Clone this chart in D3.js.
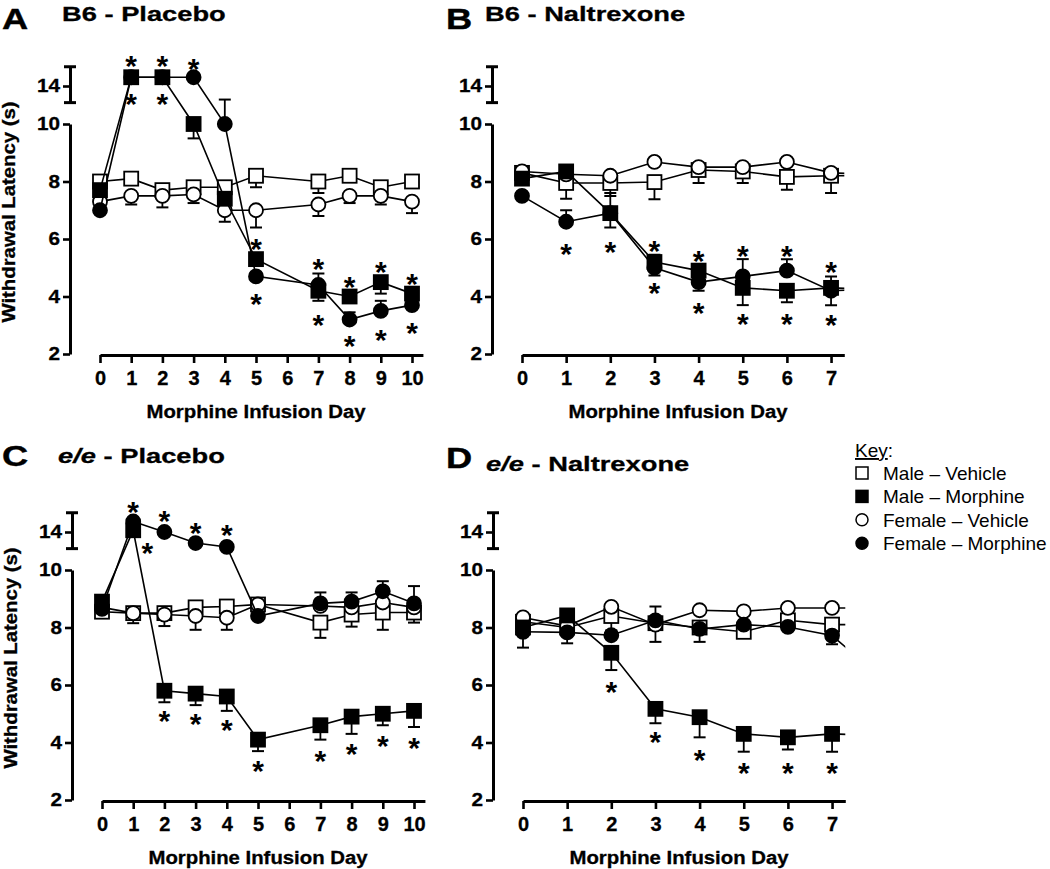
<!DOCTYPE html>
<html>
<head>
<meta charset="utf-8">
<script src="https://cdn.jsdelivr.net/npm/d3@7"></script>
<style>
  body { margin: 0; background: #fff; }
  svg { display: block; }
  text { font-family: "Liberation Sans", Arial, Helvetica, sans-serif; fill: #000; }
</style>
</head>
<body>
<svg id="chart" width="1050" height="869"></svg>
<script>
// ---- data ----
var dayTicksLong = [0, 1, 2, 3, 4, 5, 6, 7, 8, 9, 10];
var dayTicksShort = [0, 1, 2, 3, 4, 5, 6, 7];
var yTicksLower = [2, 4, 6, 8, 10];
var yTicksUpper = [14];
var seriesLabels = ['Male \u2013 Vehicle', 'Male \u2013 Morphine', 'Female \u2013 Vehicle', 'Female \u2013 Morphine'];

// A: B6 - Placebo
var daysA = [0, 1, 2, 3, 4, 5, 7, 8, 9, 10];
var maleVehA = [8.0, 8.1, 7.7, 7.8, 7.8, 8.2, 8.0, 8.2, 7.8, 8.0];
var maleVehErrA = [0, 0, 0, 0, 0, -0.4, -0.4, 0, -0.25, 0];
var maleMorA = [7.7, 14.5, 14.5, 10.0, 7.4, 5.3, 4.2, 4.0, 4.5, 4.1];
var maleMorErrA = [0, 0, 0, -0.5, 0, 0, -0.35, 0, -0.4, 0];
var femVehA = [7.3, 7.5, 7.5, 7.55, 7.0, 7.0, 7.2, 7.5, 7.5, 7.3];
var femVehErrA = [0, -0.3, -0.4, -0.3, -0.4, -0.6, -0.4, -0.25, -0.3, -0.4];
var femMorA = [7.0, 14.5, 14.5, 14.5, 10.0, 4.7, 4.4, 3.2, 3.5, 3.7];
var femMorErrA = [0, 0, 0, 0, 0.85, 0, 0.4, 0.25, 0.35, 0];
var starsA = [[1, 15.55], [1, 13.4], [2, 15.55], [2, 13.4], [3, 15.4], [5, 5.9], [5, 4.0], [7, 5.2], [7, 3.25],
  [8, 4.6], [8, 2.55], [9, 5.1], [9, 2.75], [10, 4.7], [10, 3.0]];

// B: B6 - Naltrexone (day 8 only shows as the clipped line stub)
var daysB = [0, 1, 2, 3, 4, 5, 6, 7, 8];
var maleVehB = [8.3, 7.95, 7.95, 7.98, 8.4, 8.35, 8.16, 8.2, 8.2];
var maleVehErrB = [0, -0.55, -0.45, -0.6, -0.45, -0.4, -0.45, -0.6, 0];
var maleMorB = [8.1, 8.35, 6.9, 5.2, 4.9, 4.3, 4.2, 4.3, 4.25];
var maleMorErrB = [0, 0, -0.5, 0.25, 0, -0.6, -0.4, 0.4, 0];
var femVehB = [8.35, 8.25, 8.2, 8.68, 8.5, 8.5, 8.68, 8.3, 8.25];
var femVehErrB = [0, 0, 0, 0, 0, 0, 0, 0, 0];
var femMorB = [7.5, 6.6, 6.9, 5.0, 4.5, 4.7, 4.9, 4.2, 4.25];
var femMorErrB = [0, 0.4, 0.7, -0.27, -0.3, 0.6, 0.4, -0.5, 0];
var starsB = [[1, 5.72], [2, 5.8], [3, 5.85], [3, 4.37], [4, 5.5], [4, 3.67], [5, 5.65], [5, 3.3],
  [6, 5.65], [6, 3.3], [7, 5.1], [7, 3.25]];

// C: e/e - Placebo
var daysC = [0, 1, 2, 3, 4, 5, 7, 8, 9, 10];
var maleVehC = [8.55, 8.5, 8.5, 8.7, 8.73, 8.8, 8.17, 8.45, 8.52, 8.52];
var maleVehErrC = [0, -0.35, -0.45, 0, 0, 0, -0.53, -0.42, -0.6, -0.35];
var maleMorC = [8.9, 14.1, 5.8, 5.7, 5.6, 4.1, 4.6, 4.9, 5.0, 5.1];
var maleMorErrC = [0, 0, -0.4, -0.4, -0.5, -0.4, -0.5, -0.6, -0.4, -0.56];
var femVehC = [8.7, 8.5, 8.45, 8.4, 8.34, 8.8, 8.75, 8.7, 8.87, 8.7];
var femVehErrC = [0, 0, 0, -0.48, -0.42, 0, 0, 0, 0, 0];
var femMorC = [8.65, 14.6, 14.0, 13.37, 13.15, 8.4, 8.84, 8.9, 9.26, 8.84];
var femMorErrC = [0, 0, 0, 0, 0, 0, 0.38, 0.32, 0.35, 0.6];
var starsC = [[1, 15.55], [1.45, 13.2], [2, 15.03], [3, 14.35], [4, 14.23], [2, 5.0], [3, 4.9], [4, 4.68],
  [5, 3.27], [7, 3.63], [8, 3.87], [9, 4.12], [10, 4.08]];

// D: e/e - Naltrexone (day 8 only shows as the clipped line stub)
var daysD = [0, 1, 2, 3, 4, 5, 6, 7, 8];
var maleVehD = [8.2, 8.0, 8.4, 8.15, 8.0, 7.85, 8.25, 8.1, 8.1];
var maleVehErrD = [0, 0, -0.5, -0.65, 0, -0.2, 0, 0, 0];
var maleMorD = [8.0, 8.42, 7.12, 5.17, 4.88, 4.3, 4.18, 4.3, 4.25];
var maleMorErrD = [0, 0, -0.6, -0.5, -0.7, -0.62, -0.42, -0.62, 0];
var femVehD = [8.35, 8.05, 8.72, 8.1, 8.6, 8.56, 8.68, 8.68, 8.68];
var femVehErrD = [0, 0, 0, 0, 0, 0, 0, 0, 0];
var femMorD = [7.85, 7.83, 7.73, 8.25, 7.95, 8.1, 8.02, 7.72, 6.4];
var femMorErrD = [-0.55, -0.38, 0, 0.48, -0.45, 0, 0, -0.3, 0];
var starsD = [[2, 6.0], [3, 4.28], [4, 3.65], [5, 3.2], [6, 3.2], [7, 3.2]];

// ---- layout ----
var svg = d3.select('#chart');
var axisW = 3;
var boxSize = 14;      // square marker side
var dotR = 7;          // circle marker radius
var capW = 12;         // error bar cap width

function series(mark, filled, v, e) { return {mark: mark, filled: filled, v: v, e: e}; }

var panels = [
  {letter: 'A', ital: '', post: 'B6 - Placebo', days: daysA, ticks: dayTicksLong, xMax: 10.35, step: 31.2,
    ox: 0, oy: 0, letterAt: [2, 29], titleAt: [62, 21], yTitle: true, stars: starsA,
    series: [series('sq', false, maleVehA, maleVehErrA), series('ci', false, femVehA, femVehErrA),
      series('sq', true, maleMorA, maleMorErrA), series('ci', true, femMorA, femMorErrA)]},
  {letter: 'B', ital: '', post: 'B6 - Naltrexone', days: daysB, ticks: dayTicksShort, xMax: 7.3, step: 44.15,
    ox: 422, oy: 0, letterAt: [446, 29], titleAt: [485, 21], yTitle: false, stars: starsB,
    series: [series('sq', false, maleVehB, maleVehErrB), series('ci', false, femVehB, femVehErrB),
      series('sq', true, maleMorB, maleMorErrB), series('ci', true, femMorB, femMorErrB)]},
  {letter: 'C', ital: 'e/e', post: ' - Placebo', days: daysC, ticks: dayTicksLong, xMax: 10.35, step: 31.2,
    ox: 2, oy: 446, letterAt: [2, 466], titleAt: [58, 463], yTitle: true, stars: starsC,
    series: [series('sq', false, maleVehC, maleVehErrC), series('ci', false, femVehC, femVehErrC),
      series('sq', true, maleMorC, maleMorErrC), series('ci', true, femMorC, femMorErrC)]},
  {letter: 'D', ital: 'e/e', post: ' - Naltrexone', days: daysD, ticks: dayTicksShort, xMax: 7.3, step: 44.15,
    ox: 423, oy: 446, letterAt: [446, 468], titleAt: [486, 471], yTitle: false, stars: starsD,
    series: [series('sq', false, maleVehD, maleVehErrD), series('ci', false, femVehD, femVehErrD),
      series('sq', true, maleMorD, maleMorErrD), series('ci', true, femMorD, femMorErrD)]}
];

var defs = svg.append('defs');

function stretched(parent, x, y, sx, anchor) {
  return parent.append('text')
    .attr('transform', 'translate(' + x + ',' + y + ') scale(' + sx + ',1)')
    .attr('text-anchor', anchor);
}

function drawMarker(g, mark, filled, cx, cy, size, r) {
  var m;
  if (mark === 'sq') {
    m = g.append('rect').attr('x', cx - size / 2).attr('y', cy - size / 2)
      .attr('width', size).attr('height', size);
  } else {
    m = g.append('circle').attr('cx', cx).attr('cy', cy).attr('r', r);
  }
  m.attr('fill', filled ? '#000' : '#fff').attr('stroke', '#000').attr('stroke-width', 1.8);
  return m;
}

panels.forEach(function (p, pi) {
  // titles
  stretched(svg, p.letterAt[0], p.letterAt[1], 1.25, 'start')
    .attr('font-size', 29).attr('font-weight', 'bold').attr('stroke', '#000').attr('stroke-width', 0.4)
    .text(p.letter);
  var tt = stretched(svg, p.titleAt[0], p.titleAt[1], 1.3, 'start')
    .attr('font-size', 21).attr('font-weight', 'bold').attr('stroke', '#000').attr('stroke-width', 0.3);
  if (p.ital) tt.append('tspan').attr('font-style', 'italic').text(p.ital);
  tt.append('tspan').text(p.post);

  var g = svg.append('g').attr('transform', 'translate(' + p.ox + ',' + p.oy + ')');

  var x = d3.scaleLinear().domain([0, p.xMax]).range([100, 100 + p.step * p.xMax]);
  var yLow = d3.scaleLinear().domain([2, 10]).range([354, 124]);
  var yUp = d3.scaleLinear().domain([13, 15]).range([103.5, 68.5]);
  function yPos(v) { return v >= 12 ? yUp(v) : yLow(v); }

  // lower y axis
  var yAx = g.append('g').attr('transform', 'translate(70,0)')
    .call(d3.axisLeft(yLow).tickValues(yTicksLower).tickSize(7).tickSizeOuter(0).tickPadding(2));
  // upper y axis segment with caps
  var yAx2 = g.append('g').attr('transform', 'translate(70,0)')
    .call(d3.axisLeft(yUp.copy().domain([13.05, 15.1]).range([yUp(13.05), yUp(15.1)]))
      .tickValues(yTicksUpper).tickFormat(d3.format('d')).tickSize(7).tickSizeOuter(0).tickPadding(2));
  [13.05, 15.1].forEach(function (v) {
    g.append('line').attr('x1', 70 - capW / 2).attr('x2', 70 + capW / 2)
      .attr('y1', yUp(v)).attr('y2', yUp(v)).attr('stroke', '#000').attr('stroke-width', axisW);
  });
  // x axis
  var xAx = g.append('g').attr('transform', 'translate(0,' + (yLow(2) + 1) + ')')
    .call(d3.axisBottom(x).tickValues(p.ticks).tickSize(8).tickSizeOuter(0).tickPadding(8));

  [yAx, yAx2, xAx].forEach(function (a) {
    a.select('.domain').attr('stroke-width', axisW);
    a.selectAll('.tick line').attr('stroke-width', 2.6);
    a.selectAll('text').attr('font-size', 20).attr('font-weight', 'bold')
      .attr('font-family', '"Liberation Sans", Arial, sans-serif').attr('fill', '#000')
      .attr('stroke', '#000').attr('stroke-width', 0.3);
  });
  [yAx, yAx2].forEach(function (a) {
    a.selectAll('text').attr('font-size', 18.5).attr('transform', 'scale(1.12,1)');
  });

  // axis titles
  stretched(g, 256, 418, 1.13, 'middle').attr('font-size', 18).attr('font-weight', 'bold')
    .attr('stroke', '#000').attr('stroke-width', 0.3).text('Morphine Infusion Day');
  if (p.yTitle) {
    g.append('text').attr('transform', 'translate(15,212) rotate(-90) scale(1.13,1)')
      .attr('text-anchor', 'middle').attr('font-size', 18).attr('font-weight', 'bold')
      .attr('stroke', '#000').attr('stroke-width', 0.3).text('Withdrawal Latency (s)');
  }

  // data, clipped at the end of the x axis
  var clipId = 'clip' + pi;
  defs.append('clipPath').attr('id', clipId).append('rect')
    .attr('x', p.ox + 71).attr('y', p.oy + 40).attr('width', x(p.xMax) - 71).attr('height', 330);
  var clipG = svg.append('g').attr('clip-path', 'url(#' + clipId + ')')
    .append('g').attr('transform', 'translate(' + p.ox + ',' + p.oy + ')');

  var line = d3.line().x(function (d) { return x(d[0]); }).y(function (d) { return yPos(d[1]); });

  p.series.forEach(function (s) {
    var pts = p.days.map(function (d, i) { return [d, s.v[i], s.e[i]]; });
    // error bars
    pts.forEach(function (d) {
      if (!d[2]) return;
      var y0 = yPos(d[1]), y1 = yPos(d[1] + d[2]);
      clipG.append('line').attr('x1', x(d[0])).attr('x2', x(d[0])).attr('y1', y0).attr('y2', y1)
        .attr('stroke', '#000').attr('stroke-width', 1.8);
      clipG.append('line').attr('x1', x(d[0]) - capW / 2).attr('x2', x(d[0]) + capW / 2)
        .attr('y1', y1).attr('y2', y1).attr('stroke', '#000').attr('stroke-width', 2);
    });
    clipG.append('path').datum(pts).attr('d', line)
      .attr('fill', 'none').attr('stroke', '#000').attr('stroke-width', 1.6);
    pts.forEach(function (d) {
      drawMarker(clipG, s.mark, s.filled, x(d[0]), yPos(d[1]), boxSize, dotR);
    });
  });

  // significance asterisks
  var fs = 30;
  p.stars.forEach(function (st) {
    g.append('text').attr('x', x(st[0])).attr('y', yPos(st[1]) + fs * 0.58)
      .attr('text-anchor', 'middle').attr('font-size', fs).attr('font-weight', 'bold').text('*');
  });
});

// ---- key ----
var key = svg.append('g');
var kt = key.append('text').attr('x', 855).attr('y', 457).attr('font-size', 19);
kt.append('tspan').attr('text-decoration', 'underline').text('Key');
kt.append('tspan').text(':');
var keyMarks = [['sq', false], ['sq', true], ['ci', false], ['ci', true]];
seriesLabels.forEach(function (lab, i) {
  var by = 480 + i * 23.4;
  drawMarker(key, keyMarks[i][0], keyMarks[i][1], 862, by - 7, 12, 6)
    .attr('stroke-width', 1.5);
  key.append('text').attr('x', 883).attr('y', by).attr('font-size', 19).text(lab);
});
</script>
</body>
</html>
